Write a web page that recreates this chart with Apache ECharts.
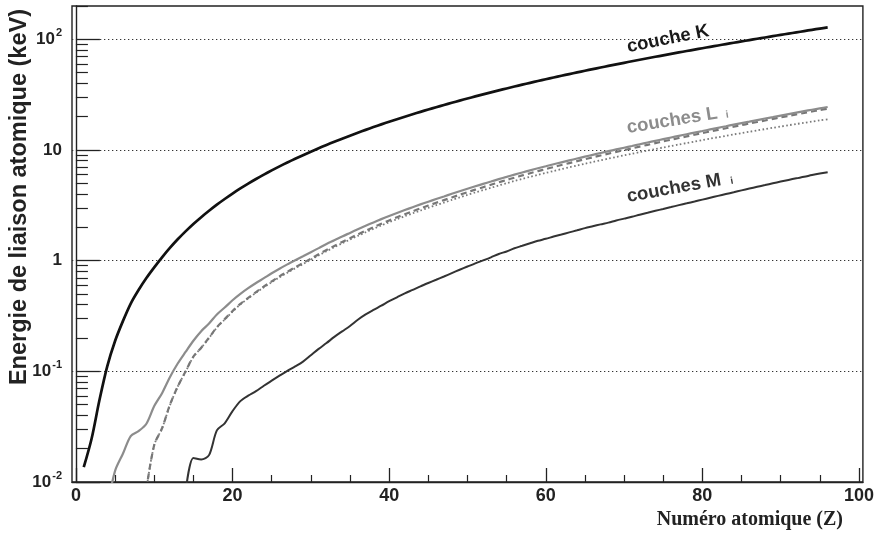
<!DOCTYPE html>
<html>
<head>
<meta charset="utf-8">
<script src="https://cdn.jsdelivr.net/npm/echarts@6/dist/echarts.min.js"></script>
<style>
  html, body { margin: 0; padding: 0; background: #ffffff; }
  #chart { width: 877px; height: 537px; }
</style>
</head>
<body>
<div id="chart"></div>
<script>
// Atomic binding energies (keV) versus atomic number Z.
// Each list starts at the given Z and runs in steps of 1 up to Z = 96.
const K_START = 1;
const kShell = [
  0.0136, 0.0246, 0.0548, 0.111, 0.188, 0.2842, 0.4099, 0.5431, 0.6967, 0.8701,
  1.0721, 1.303, 1.5596, 1.8389, 2.1455, 2.472, 2.8224, 3.2059, 3.6074, 4.0381,
  4.4928, 4.9664, 5.4651, 5.9892, 6.539, 7.112, 7.709, 8.333, 8.979, 9.659,
  10.367, 11.103, 11.867, 12.658, 13.474, 14.326, 15.2, 16.105, 17.038, 17.998,
  18.986, 20.0, 21.044, 22.117, 23.22, 24.35, 25.514, 26.711, 27.94, 29.2,
  30.491, 31.814, 33.169, 34.561, 35.985, 37.441, 38.925, 40.443, 41.991, 43.569,
  45.184, 46.834, 48.519, 50.239, 51.996, 53.789, 55.618, 57.486, 59.39, 61.332,
  63.314, 65.351, 67.416, 69.525, 71.676, 73.871, 76.111, 78.395, 80.725, 83.102,
  85.53, 88.005, 90.526, 93.105, 95.73, 98.404, 101.137, 103.922, 106.755, 109.651,
  112.601, 115.606, 118.678, 121.818, 125.027, 128.22
];

const L1_START = 4;
const l1Shell = [
  0.006, 0.0126, 0.018, 0.026, 0.0288, 0.0336, 0.0485, 0.0635, 0.0886, 0.1177,
  0.1497, 0.189, 0.2307, 0.2702, 0.3263, 0.3771, 0.4384, 0.5004, 0.5637, 0.6282,
  0.6946, 0.769, 0.8461, 0.9256, 1.0081, 1.0961, 1.1936, 1.2977, 1.4143, 1.5265,
  1.6539, 1.782, 1.921, 2.0651, 2.2163, 2.3725, 2.5316, 2.6977, 2.8655, 3.0425,
  3.224, 3.4119, 3.6043, 3.8058, 4.018, 4.2375, 4.4647, 4.6983, 4.9392, 5.1881,
  5.4528, 5.7143, 5.9888, 6.2663, 6.5488, 6.8348, 7.126, 7.4279, 7.7368, 8.052,
  8.3756, 8.708, 9.0458, 9.3942, 9.7513, 10.1157, 10.4864, 10.8704, 11.2707, 11.6815,
  12.0998, 12.5267, 12.968, 13.4185, 13.8799, 14.3528, 14.8393, 15.3467, 15.8608, 16.3875,
  16.939, 17.493, 18.049, 18.639, 19.237, 19.84, 20.472, 21.105, 21.7574, 22.427,
  23.097, 23.773, 24.46
];

const L2_START = 9;
const l2Shell = [
  0.0086, 0.0216, 0.0306, 0.0497, 0.0728, 0.0998, 0.136, 0.1635, 0.2016, 0.2506,
  0.2963, 0.35, 0.4067, 0.4615, 0.5205, 0.5837, 0.6498, 0.7211, 0.7936, 0.8719,
  0.951, 1.0428, 1.1423, 1.2478, 1.3586, 1.4762, 1.596, 1.7272, 1.8639, 2.0068,
  2.1555, 2.3067, 2.4647, 2.6251, 2.7932, 2.9669, 3.1461, 3.3303, 3.5237, 3.727,
  3.938, 4.1561, 4.3804, 4.612, 4.8521, 5.1037, 5.3594, 5.6236, 5.8906, 6.1642,
  6.4404, 6.7215, 7.0128, 7.3118, 7.6171, 7.9303, 8.2516, 8.5806, 8.9178, 9.2643,
  9.6169, 9.9782, 10.3486, 10.7394, 11.1361, 11.544, 11.9587, 12.385, 12.8241, 13.2726,
  13.7336, 14.2087, 14.6979, 15.2, 15.7111, 16.2443, 16.7847, 17.3371, 17.9065, 18.4843,
  19.0832, 19.6932, 20.3137, 20.9476, 21.6005, 22.2662, 22.9436, 23.6339
];

const L3_START = 9;
const l3Shell = [
  0.0086, 0.0216, 0.0306, 0.0492, 0.0728, 0.0991, 0.135, 0.1628, 0.2, 0.2484,
  0.2937, 0.3463, 0.4022, 0.4555, 0.5129, 0.5745, 0.6387, 0.7081, 0.7786, 0.8547,
  0.9311, 1.0197, 1.1154, 1.2167, 1.3231, 1.4358, 1.5499, 1.6749, 1.8044, 1.9396,
  2.08, 2.2223, 2.3705, 2.5202, 2.6769, 2.8379, 3.0038, 3.1733, 3.3511, 3.5375,
  3.7301, 3.9288, 4.1322, 4.3414, 4.5571, 4.7822, 5.0119, 5.247, 5.4827, 5.7234,
  5.9643, 6.2079, 6.4593, 6.7162, 6.9769, 7.2428, 7.514, 7.7901, 8.0711, 8.3579,
  8.648, 8.9436, 9.2441, 9.5607, 9.8811, 10.2068, 10.5353, 10.8709, 11.2152, 11.5637,
  11.9187, 12.2839, 12.6575, 13.0352, 13.4186, 13.8138, 14.2135, 14.6194, 15.0312, 15.4444,
  15.871, 16.3003, 16.7331, 17.1663, 17.61, 18.0568, 18.5041, 18.9586
];

const M1_START = 14;
const m1Shell = [
  0.008, 0.0165, 0.016, 0.0175, 0.0293, 0.0339, 0.0437, 0.0538, 0.0603, 0.0663,
  0.0741, 0.0823, 0.0913, 0.101, 0.1108, 0.1225, 0.1398, 0.1595, 0.1801, 0.2047,
  0.2296, 0.257, 0.2928, 0.3267, 0.3587, 0.392, 0.4303, 0.4666, 0.5063, 0.544,
  0.5861, 0.6281, 0.6716, 0.719, 0.772, 0.8272, 0.8847, 0.946, 1.006, 1.072,
  1.1487, 1.211, 1.293, 1.362, 1.436, 1.511, 1.575, 1.65, 1.723, 1.8,
  1.881, 1.968, 2.047, 2.128, 2.207, 2.307, 2.398, 2.491, 2.601, 2.708,
  2.82, 2.932, 3.049, 3.174, 3.296, 3.425, 3.562, 3.704, 3.851, 3.999,
  4.149, 4.317, 4.482, 4.652, 4.822, 5.002, 5.182, 5.367, 5.548, 5.723,
  5.933, 6.121, 6.288
];

// Axis ticks
const xMajorTicks = [0, 20, 40, 60, 80, 100];
const xMinorTicks = [5, 10, 15, 25, 30, 35, 45, 50, 55, 65, 70, 75, 85, 90, 95];
const yMajorTicks = [0.01, 0.1, 1, 10, 100];
const yMinorTicks = [];
[0.01, 0.1, 1, 10, 100].forEach(function (d) {
  for (let m = 2; m <= 9; m++) {
    const v = +(d * m).toPrecision(3);
    if (v <= 200) yMinorTicks.push(v);
  }
});

function pairs(start, values) {
  return values.map(function (v, i) { return [start + i, v]; });
}

const FONT = "'Liberation Sans', Arial, Helvetica, sans-serif";
const X_MIN = -0.5, X_MAX = 100.5, Y_MIN = 0.01, Y_MAX = 200;

const chart = echarts.init(document.getElementById('chart'), null, { renderer: 'canvas' });

function yLabel(val) {
  const p = Math.round(Math.log10(val));
  if (p === 0) return '{b|1}';
  if (p === 1) return '{b|10}';
  return '{b|10}{e|' + p + '}';
}

const baseLine = { type: 'line', showSymbol: false, symbol: 'none', smooth: 0.3, clip: true, silent: true, z: 3 };

chart.setOption({
  animation: false,
  backgroundColor: '#ffffff',
  grid: {
    left: 72, top: 6, right: 9, bottom: 55,
    show: true, borderColor: '#222', borderWidth: 1.4, backgroundColor: 'transparent'
  },
  xAxis: [
    {
      type: 'value', min: X_MIN, max: X_MAX, position: 'bottom',
      axisLine: { show: true, lineStyle: { color: '#222', width: 1.4 } },
      axisTick: { show: true, inside: true, length: 14, customValues: xMajorTicks, lineStyle: { color: '#222', width: 1.3 } },
      axisLabel: {
        show: true, customValues: xMajorTicks, margin: 5,
        color: '#222', fontFamily: FONT, fontWeight: 'bold', fontSize: 18
      },
      splitLine: { show: false }
    },
    {
      type: 'value', min: X_MIN, max: X_MAX, position: 'bottom',
      axisLine: { show: false },
      axisTick: { show: true, inside: true, length: 7, customValues: xMinorTicks, lineStyle: { color: '#222', width: 1.2 } },
      axisLabel: { show: false },
      splitLine: { show: false }
    }
  ],
  yAxis: [
    {
      type: 'log', logBase: 10, min: Y_MIN, max: Y_MAX, position: 'left',
      axisLine: { show: true, lineStyle: { color: '#222', width: 1.4 } },
      axisTick: { show: true, inside: true, length: 24, customValues: yMajorTicks, lineStyle: { color: '#222', width: 1.3 } },
      axisLabel: {
        show: true, customValues: yMajorTicks, margin: 10,
        formatter: yLabel,
        rich: {
          b: { fontFamily: FONT, fontWeight: 'bold', fontSize: 17, color: '#222' },
          e: { fontFamily: FONT, fontWeight: 'bold', fontSize: 11, color: '#222', padding: [0, 0, 12, 1] }
        }
      },
      splitLine: { show: true, lineStyle: { color: '#333', width: 1.2, type: [1.3, 2.7] } }
    },
    {
      type: 'log', logBase: 10, min: Y_MIN, max: Y_MAX, position: 'left',
      axisLine: { show: false },
      axisTick: { show: true, inside: true, length: 12, customValues: yMinorTicks, lineStyle: { color: '#222', width: 1.2 } },
      axisLabel: { show: false },
      splitLine: { show: false }
    }
  ],
  series: [
    Object.assign({}, baseLine, {
      name: 'K', data: pairs(K_START, kShell),
      lineStyle: { color: '#111', width: 2.7 }
    }),
    Object.assign({}, baseLine, {
      name: 'L3', data: pairs(L3_START, l3Shell),
      lineStyle: { color: '#7a7a7a', width: 1.8, type: [1.6, 2.4] }
    }),
    Object.assign({}, baseLine, {
      name: 'L2', data: pairs(L2_START, l2Shell),
      lineStyle: { color: '#777', width: 2.2, type: [6, 4] }
    }),
    Object.assign({}, baseLine, {
      name: 'L1', data: pairs(L1_START, l1Shell),
      lineStyle: { color: '#8c8c8c', width: 2.2 }
    }),
    Object.assign({}, baseLine, {
      name: 'M1', data: pairs(M1_START, m1Shell),
      lineStyle: { color: '#333', width: 2.0 }
    })
  ],
  graphic: [
    {
      type: 'text', x: 20, y: 9, rotation: Math.PI / 2, z: 10,
      style: {
        text: 'Energie de liaison atomique (keV)', fill: '#222',
        font: 'bold 23.5px ' + FONT, textAlign: 'right', textVerticalAlign: 'middle'
      }
    },
    {
      type: 'text', x: 843, y: 520, z: 10,
      style: {
        text: 'Numéro atomique (Z)', fill: '#222',
        font: "bold 20px 'Liberation Serif', 'Times New Roman', serif", textAlign: 'right', textVerticalAlign: 'middle'
      }
    },
    {
      type: 'text', x: 668, y: 39, rotation: 0.2, z: 10,
      style: {
        text: 'couche K', fill: '#1a1a1a',
        font: 'bold 18.5px ' + FONT, textAlign: 'center', textVerticalAlign: 'middle'
      }
    },
    {
      type: 'text', x: 627, y: 128, rotation: 0.16, z: 10,
      style: {
        text: '{a|couches L}{s|i}', fill: '#8c8c8c',
        textAlign: 'left', textVerticalAlign: 'middle',
        rich: {
          a: { font: 'bold 18.5px ' + FONT, fill: '#8c8c8c' },
          s: { font: 'bold 10px ' + FONT, fill: '#8c8c8c', padding: [6, 0, 0, 8] }
        }
      }
    },
    {
      type: 'text', x: 627, y: 197, rotation: 0.18, z: 10,
      style: {
        text: '{a|couches M}{s|i}', fill: '#333',
        textAlign: 'left', textVerticalAlign: 'middle',
        rich: {
          a: { font: 'bold 18.5px ' + FONT, fill: '#333' },
          s: { font: 'bold 10px ' + FONT, fill: '#333', padding: [6, 0, 0, 9] }
        }
      }
    }
  ]
});
</script>
</body>
</html>
